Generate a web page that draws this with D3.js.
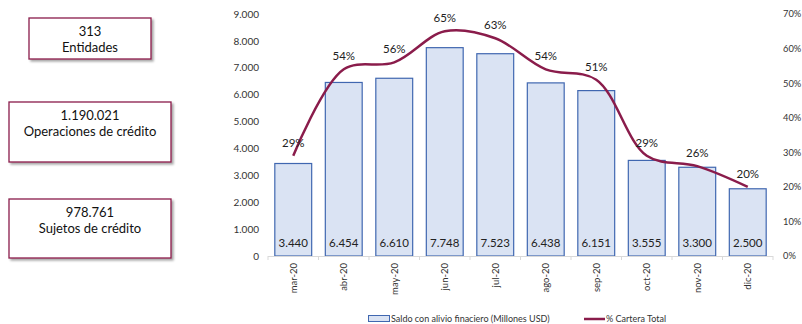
<!DOCTYPE html>
<html><head><meta charset="utf-8">
<script src="https://cdn.jsdelivr.net/npm/d3@7"></script>
<style>body{margin:0;background:#fff;}svg{display:block;font-family:Lato,"Noto Sans",sans-serif;}</style>
</head><body><svg id="c" width="802" height="324"></svg>
<script>
const categories = ["mar-20","abr-20","may-20","jun-20","jul-20","ago-20","sep-20","oct-20","nov-20","dic-20"];
const saldo = [3440,6454,6610,7748,7523,6438,6151,3555,3300,2500];
const cartera = [29,54,56,65,63,54,51,29,26,20];
const leftTicks = [0,1000,2000,3000,4000,5000,6000,7000,8000,9000];
const rightTicks = [0,10,20,30,40,50,60,70];
const boxNumbers = ["313","1.190.021","978.761"];
const boxLabels = ["Entidades","Operaciones de crédito","Sujetos de crédito"];
const legendLabels = ["Saldo con alivio finaciero (Millones USD)","% Cartera Total"];

const svg = d3.select("#c");
const fmt = d => d3.format(",")(d).replace(/,/g,".");
const M = {l:268, r:773, t:14, b:256};
const x = d3.scaleBand().domain(categories).range([M.l,M.r]).paddingInner(0.27).paddingOuter(0.135);
const y = d3.scaleLinear().domain([0,9000]).range([M.b,M.t]);
const y2 = d3.scaleLinear().domain([0,70]).range([M.b,M.t]);
const MAROON = "#8a1c4b";

// info boxes
const boxes = [
  {x:29,y:18,w:122,h:41},
  {x:9,y:102,w:162,h:60},
  {x:9,y:199,w:162,h:59}
];
const defs = svg.append("defs");
const f = defs.append("filter").attr("id","sh").attr("x","-10%").attr("y","-10%").attr("width","130%").attr("height","140%");
f.append("feDropShadow").attr("dx",2).attr("dy",2).attr("stdDeviation",1.2).attr("flood-color","#000").attr("flood-opacity",0.35);
boxes.forEach((b,i)=>{
  svg.append("rect").attr("x",b.x).attr("y",b.y).attr("width",b.w).attr("height",b.h)
    .attr("fill","#fff").attr("stroke",MAROON).attr("stroke-width",1.3).attr("filter","url(#sh)");
  svg.append("text").attr("x",b.x+b.w/2).attr("y",b.y+18).attr("text-anchor","middle")
    .attr("font-size",13).attr("fill","#111").text(boxNumbers[i]);
  svg.append("text").attr("x",b.x+b.w/2).attr("y",b.y+34).attr("text-anchor","middle")
    .attr("font-size",13).attr("fill","#111").text(boxLabels[i]);
});

// left axis
const gl = svg.append("g").attr("transform",`translate(${M.l},0)`)
  .call(d3.axisLeft(y).tickValues(leftTicks).tickFormat(fmt).tickSize(0).tickPadding(9));
gl.select(".domain").remove();
gl.selectAll("text").attr("font-size",10).attr("fill","#333").attr("font-family","Lato,sans-serif");

// right axis
const gr = svg.append("g").attr("transform",`translate(${M.r},0)`)
  .call(d3.axisRight(y2).tickValues(rightTicks).tickFormat(d=>d+"%").tickSize(0).tickPadding(10));
gr.select(".domain").remove();
gr.selectAll("text").attr("font-size",9.3).attr("fill","#333").attr("font-family","Lato,sans-serif");

// bars
svg.append("g").selectAll("rect").data(categories).join("rect")
  .attr("x",d=>x(d)).attr("width",x.bandwidth())
  .attr("y",(d,i)=>y(saldo[i])).attr("height",(d,i)=>M.b-y(saldo[i]))
  .attr("fill","#dae3f3").attr("stroke","#4067b0").attr("stroke-width",1.2);

// x axis
svg.append("line").attr("x1",M.l).attr("x2",M.r).attr("y1",M.b+0.5).attr("y2",M.b+0.5).attr("stroke","#d9d9d9").attr("stroke-width",1);
d3.range(categories.length+1).forEach(i=>{
  const xx = M.l + (M.r-M.l)*i/categories.length;
  svg.append("line").attr("x1",xx).attr("x2",xx).attr("y1",M.b).attr("y2",M.b+4).attr("stroke","#d9d9d9");
});
svg.append("g").selectAll("text").data(categories).join("text")
  .attr("transform",d=>`translate(${x(d)+x.bandwidth()/2+3.5},${M.b+7}) rotate(-90)`)
  .attr("text-anchor","end").attr("font-size",9.5).attr("fill","#333").text(d=>d);

// value labels
svg.append("g").selectAll("text").data(categories).join("text")
  .attr("x",d=>x(d)+x.bandwidth()/2).attr("y",M.b-9)
  .attr("text-anchor","middle").attr("font-size",11.5).attr("fill","#222")
  .text((d,i)=>fmt(saldo[i]));

// line
const pts = categories.map((c,i)=>[x(c)+x.bandwidth()/2, y2(cartera[i])]);
svg.append("path").datum(pts).attr("d",d3.line().curve(d3.curveCatmullRom.alpha(0.5)))
  .attr("fill","none").attr("stroke",MAROON).attr("stroke-width",2.5);

// percent labels
svg.append("g").selectAll("text").data(categories).join("text")
  .attr("x",(d,i)=>pts[i][0]).attr("y",(d,i)=>pts[i][1]-9)
  .attr("text-anchor","middle").attr("font-size",11.5).attr("fill","#222")
  .text((d,i)=>cartera[i]+"%");

// legend
svg.append("rect").attr("x",368.5).attr("y",315.5).attr("width",21).attr("height",6)
  .attr("fill","#dae3f3").attr("stroke","#4067b0").attr("stroke-width",1);
svg.append("text").attr("x",391).attr("y",322).attr("font-size",9).attr("fill","#333").text(legendLabels[0]);
svg.append("line").attr("x1",584).attr("x2",605).attr("y1",319).attr("y2",319).attr("stroke",MAROON).attr("stroke-width",2.5);
svg.append("text").attr("x",606).attr("y",322).attr("font-size",9).attr("fill","#333").text(legendLabels[1]);
</script></body></html>
